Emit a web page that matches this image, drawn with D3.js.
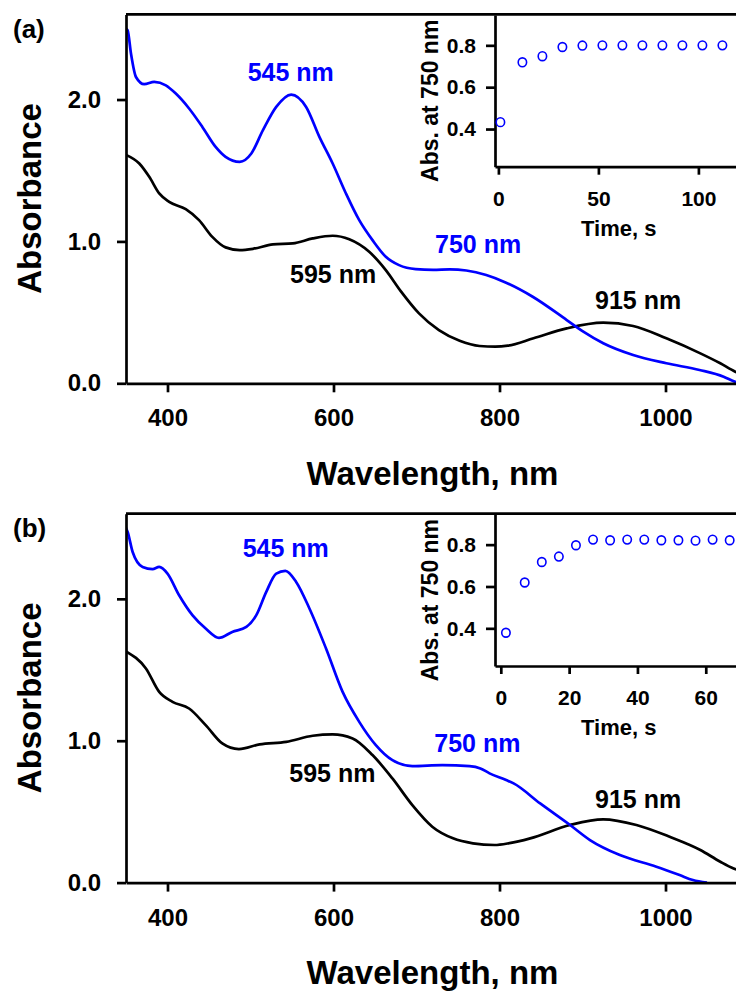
<!DOCTYPE html>
<html><head><meta charset="utf-8">
<script src="https://cdn.jsdelivr.net/npm/d3@7/dist/d3.min.js"></script>
<style>
html,body{margin:0;padding:0;background:#fff;}
svg{display:block;}
text{font-family:"Liberation Sans",Arial,sans-serif;font-weight:bold;}
</style></head>
<body>
<script>
// ---------- DATA ----------
const panelLabels = ["(a)", "(b)"];
const xTicks = [400, 600, 800, 1000];
const yTicks = [0, 1, 2];
const insetYTicks = [0.4, 0.6, 0.8];
const insetXTicksA = [0, 50, 100];
const insetXTicksB = [0, 20, 40, 60];

// Panel (a) spectra: [wavelength nm, absorbance]
const aBlue = [[350,2.50],[352,2.488],[356,2.324],[362,2.159],[372,2.108],[384,2.124],[398,2.100],[410,2.042],[426,1.937],[442,1.807],[458,1.666],[470,1.596],[487,1.561],[501,1.62],[515,1.784],[531,1.948],[549,2.035],[567,1.948],[583,1.737],[599,1.549],[615,1.338],[631,1.150],[647,1.009],[663,0.892],[679,0.833],[699,0.805],[720,0.800],[740,0.803],[760,0.795],[784,0.763],[808,0.709],[840,0.610],[881,0.446],[901,0.364],[925,0.282],[961,0.199],[1001,0.141],[1041,0.094],[1070,0.047],[1084,0.010],[1090,0.0]];
const aBlack = [[350,1.61],[366,1.549],[378,1.455],[390,1.338],[402,1.279],[422,1.227],[438,1.150],[454,1.032],[470,0.958],[487,0.939],[503,0.948],[527,0.979],[551,0.986],[575,1.021],[599,1.040],[619,1.015],[643,0.927],[663,0.798],[681,0.650],[703,0.493],[727,0.375],[752,0.300],[776,0.263],[795,0.258],[810,0.265],[841,0.317],[881,0.387],[925,0.427],[961,0.404],[1001,0.317],[1042,0.211],[1066,0.141],[1084,0.082],[1100,0.050]];
// Panel (b) spectra
const bBlue = [[350,2.50],[352,2.471],[358,2.330],[370,2.225],[382,2.210],[390,2.225],[400,2.178],[414,2.025],[430,1.885],[446,1.791],[462,1.725],[478,1.767],[495,1.802],[507,1.885],[519,2.049],[531,2.178],[542,2.197],[555,2.119],[571,1.932],[591,1.650],[611,1.344],[631,1.133],[651,0.969],[671,0.863],[695,0.821],[731,0.828],[764,0.821],[777,0.805],[788,0.770],[808,0.723],[817,0.699],[849,0.558],[885,0.406],[909,0.300],[945,0.194],[989,0.112],[1017,0.053],[1033,0.018],[1050,0.0]];
const bBlack = [[350,1.63],[374,1.509],[390,1.344],[406,1.274],[426,1.227],[446,1.110],[466,0.981],[486,0.941],[511,0.974],[543,0.992],[575,1.035],[599,1.044],[623,1.016],[647,0.899],[671,0.734],[695,0.546],[719,0.394],[744,0.312],[768,0.277],[794,0.265],[812,0.278],[837,0.312],[885,0.406],[925,0.446],[965,0.406],[1005,0.323],[1042,0.230],[1066,0.147],[1082,0.100],[1100,0.070]];

// Insets: time (s) and absorbance at 750 nm
const aTime = [1, 12, 22, 32, 42, 52, 62, 72, 82, 92, 102, 112];
const aAbs750 = [0.433, 0.719, 0.748, 0.792, 0.799, 0.800, 0.800, 0.800, 0.800, 0.800, 0.800, 0.800];
const bTime = [1.5, 7, 12, 17, 22, 27, 32, 37, 42, 47, 52, 57, 62, 67];
const bAbs750 = [0.379, 0.619, 0.717, 0.743, 0.797, 0.824, 0.821, 0.824, 0.824, 0.821, 0.821, 0.819, 0.824, 0.821];

// Peak annotations
const peakLabels = ["545 nm", "750 nm", "595 nm", "915 nm"];

// ---------- DRAW ----------
const W = 736, H = 992;
const svg = d3.select("body").append("svg").attr("width", W).attr("height", H);
svg.append("rect").attr("width", W).attr("height", H).attr("fill", "#fff");

const BLUE = "#0000ff";

function styleAxis(g, fs) {
  g.selectAll("path,line").attr("stroke", "#000").attr("stroke-width", 2.7);
  g.selectAll("text").attr("fill", "#000").style("font-size", fs + "px").style("font-weight", "bold")
    .style("font-family", '"Liberation Sans",Arial,sans-serif');
}

function drawPanel(idx, offY, blue, black, times, abs750, insetXDomain, insetXTicks, labelPos) {
  const g = svg.append("g").attr("transform", `translate(0,${offY})`);
  const x = d3.scaleLinear().domain([350, 1100]).range([126, 748.5]);
  const y = d3.scaleLinear().domain([0, 2.6]).range([383.3, 14.4]);

  const clipId = "clip" + idx;
  g.append("clipPath").attr("id", clipId).append("rect")
    .attr("x", 126).attr("y", 14).attr("width", 623).attr("height", 370);

  const line = d3.line().x(d => x(d[0])).y(d => y(d[1])).curve(d3.curveMonotoneX);
  g.append("path").datum(black).attr("d", line).attr("fill", "none").attr("stroke", "#000")
    .attr("stroke-width", 2.7).attr("clip-path", `url(#${clipId})`);
  g.append("path").datum(blue).attr("d", line).attr("fill", "none").attr("stroke", BLUE)
    .attr("stroke-width", 2.7).attr("clip-path", `url(#${clipId})`);

  // top frame
  g.append("line").attr("x1", 126).attr("x2", 748.5).attr("y1", y(2.6)).attr("y2", y(2.6))
    .attr("stroke", "#000").attr("stroke-width", 2.7);

  const gx = g.append("g").attr("transform", `translate(0,${y(0)})`)
    .call(d3.axisBottom(x).tickValues(xTicks).tickFormat(d3.format("d")).tickSize(9).tickPadding(17).tickSizeOuter(0));
  styleAxis(gx, 24);
  const gy = g.append("g").attr("transform", `translate(${x(350)},0)`)
    .call(d3.axisLeft(y).tickValues(yTicks).tickFormat(d3.format(".1f")).tickSize(9).tickPadding(16).tickSizeOuter(0));
  styleAxis(gy, 24);

  // axis titles
  g.append("text").attr("transform", "translate(41,198.5) rotate(-90)").attr("text-anchor", "middle")
    .style("font-size", "33px").text("Absorbance");
  g.append("text").attr("x", 432.5).attr("y", 485).attr("text-anchor", "middle")
    .style("font-size", "33px").text("Wavelength, nm");
  // panel label
  g.append("text").attr("x", 13).attr("y", 38).style("font-size", "26px").text(panelLabels[idx]);

  // peak labels
  const colors = [BLUE, BLUE, "#000", "#000"];
  peakLabels.forEach((t, i) => {
    g.append("text").attr("x", labelPos[i][0]).attr("y", labelPos[i][1])
      .attr("fill", colors[i]).style("font-size", "25px").text(t);
  });

  // inset
  const xi = d3.scaleLinear().domain(insetXDomain).range([495, 743]);
  const yi = d3.scaleLinear().domain([0.22, 0.945]).range([166.7, 15]);
  const gix = g.append("g").attr("transform", `translate(0,${yi(0.22)})`)
    .call(d3.axisBottom(xi).tickValues(insetXTicks).tickSize(8).tickPadding(16).tickSizeOuter(0));
  styleAxis(gix, 21);
  const giy = g.append("g").attr("transform", `translate(${xi.range()[0]},0)`)
    .call(d3.axisLeft(yi).tickValues(insetYTicks).tickFormat(d3.format(".1f")).tickSize(9).tickPadding(10).tickSizeOuter(0));
  styleAxis(giy, 21);
  g.append("text").attr("x", 618.7).attr("y", 236).attr("text-anchor", "middle")
    .style("font-size", "22px").text("Time, s");
  g.append("text").attr("transform", "translate(437.5,100.8) rotate(-90)").attr("text-anchor", "middle")
    .style("font-size", "23px").text("Abs. at 750 nm");
  g.selectAll("ellipse.pt").data(times.map((t, i) => [t, abs750[i]])).enter().append("ellipse")
    .attr("class", "pt")
    .attr("cx", d => xi(d[0])).attr("cy", d => yi(d[1])).attr("rx", 4.2).attr("ry", 4.4)
    .attr("fill", "none").attr("stroke", BLUE).attr("stroke-width", 1.6);
}

drawPanel(0, 0, aBlue, aBlack, aTime, aAbs750, [-1.7, 122.3], insetXTicksA,
  [[247.7, 81], [435, 252.5], [290, 282.7], [595, 309.3]]);
drawPanel(1, 499.3, bBlue, bBlack, bTime, bAbs750, [-1.7, 70.9], insetXTicksB,
  [[242.7, 57.4], [434.3, 252.4], [289.3, 283], [595, 309]]);
</script>
</body></html>
